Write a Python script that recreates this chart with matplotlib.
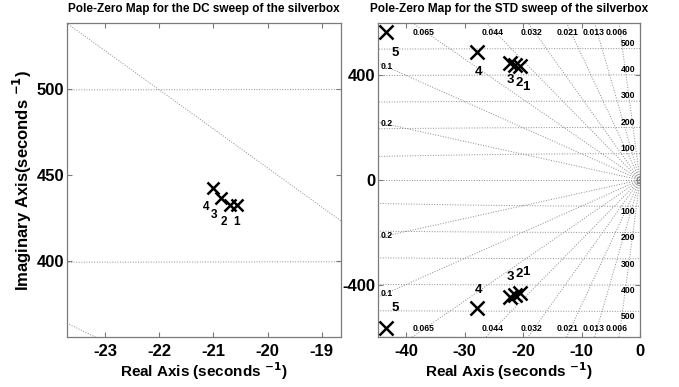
import numpy as np
import matplotlib
matplotlib.use("Agg")
import matplotlib.pyplot as plt

plt.rcParams['font.family'] = ['Liberation Sans', 'DejaVu Sans']
plt.rcParams['font.weight'] = 'bold'
plt.rcParams['mathtext.default'] = 'bf'
plt.rcParams['axes.unicode_minus'] = False

#### poles of the DC sweep (upper half only is in view) ####
dc_re = [-20.56, -20.69, -20.86, -21.01]
dc_im = [432.6, 432.6, 436.5, 442.3]
dc_lab = ['1', '2', '3', '4']

#### poles of the STD sweep (conjugate pairs) ####
std_re = [-20.5, -21.3, -22.2, -27.9, -43.4]
std_im = [432, 437, 444, 487, 565]
std_lab = ['1', '2', '3', '4', '5']

#### sgrid values ####
zetas = [0.006, 0.013, 0.021, 0.032, 0.044, 0.065, 0.1, 0.2]
zeta_top = ['0.006', '0.013', '0.021', '0.032', '0.044', '0.065']
zeta_side = ['0.1', '0.2']
wns = [100, 200, 300, 400, 500, 600]
wn_lab = ['100', '200', '300', '400', '500']

gcol = '#8a8a8a'
fcol = '#7a7a7a'


def draw_sgrid(ax, rmax):
    # damping rays
    for z in zetas:
        t = np.tan(np.arccos(z))
        xs = np.array([0, -rmax])
        ax.plot(xs, -t*xs, color=gcol, ls=':', lw=0.7, zorder=1)
        ax.plot(xs, t*xs, color=gcol, ls=':', lw=0.7, zorder=1)
    # natural frequency circles
    th = np.linspace(np.pi/2, 3*np.pi/2, 2000)
    for w in wns:
        ax.plot(w*np.cos(th), w*np.sin(th), color=gcol, ls=':', lw=0.7, zorder=1)
    ax.axhline(0, color=gcol, ls=':', lw=0.7, zorder=1)


def style_axes(ax, xt, yt):
    ax.set_xticks(xt, labels=[str(v) for v in xt], fontweight='bold', fontsize=12)
    ax.set_yticks(yt, labels=[str(v) for v in yt], fontweight='bold', fontsize=12)
    for s in ax.spines.values():
        s.set_color(fcol)
        s.set_linewidth(0.9)
    ax.tick_params(direction='in', top=True, right=True, length=3.5,
                   color=fcol, width=0.8)
    ax.tick_params(axis='x', pad=5)
    ax.tick_params(axis='y', pad=2)


fig = plt.figure(figsize=(6.79, 3.87), dpi=100)

#### left: DC sweep ####
ax1 = fig.add_axes([0.0987, 0.129, 0.4030, 0.812])
draw_sgrid(ax1, 60)
ax1.plot(dc_re, dc_im, ls='none', marker='x', ms=9, mew=1.8, color='k', zorder=3)
dc_dx = [-0.02, -0.11, -0.12, -0.12]
dc_dy = [-9.8, -9.8, -9.8, -10.7]
for i in range(len(dc_re)):
    ax1.text(dc_re[i]+dc_dx[i], dc_im[i]+dc_dy[i], dc_lab[i], fontsize=8.5,
             fontweight='bold', ha='center', va='center')
ax1.set_xlim(-23.7, -18.65)
ax1.set_ylim(355.8, 538.4)
style_axes(ax1, [-23, -22, -21, -20, -19], [400, 450, 500])
ax1.set_xlabel('Real Axis (seconds $^{-1}$)', fontsize=11, fontweight='bold', labelpad=1)
ax1.set_ylabel('Imaginary Axis(seconds $^{-1}$)', fontsize=12, fontweight='bold', labelpad=2)
ax1.set_title('Pole-Zero Map for the DC sweep of the silverbox', fontsize=8.5,
              fontweight='bold', pad=8)

#### right: STD sweep ####
ax2 = fig.add_axes([0.5567, 0.129, 0.3859, 0.812])
draw_sgrid(ax2, 60)
ax2.plot(0, 0, marker='s', ms=4, mfc='none', mec=gcol, mew=0.8, zorder=2)
ax2.plot(std_re, std_im, ls='none', marker='x', ms=10, mew=1.8, color='k', zorder=3)
ax2.plot(std_re, -np.array(std_im), ls='none', marker='x', ms=10, mew=1.8, color='k', zorder=3)
std_dx = [1.0, 0.6, 0.1, 0.2, 1.5]
top_dy = [-77, -69, -63, -76, -81]
bot_dy = [83, 79, 74, 68, 77]
for i in range(len(std_re)):
    ax2.text(std_re[i]+std_dx[i], std_im[i]+top_dy[i], std_lab[i], fontsize=9.5,
             fontweight='bold', ha='center', va='center')
    ax2.text(std_re[i]+std_dx[i], -std_im[i]+bot_dy[i], std_lab[i], fontsize=9.5,
             fontweight='bold', ha='center', va='center')

ylim2 = 598
# damping labels along top and bottom edges
for z, s in zip(zetas[:6], zeta_top):
    t = np.tan(np.arccos(z))
    xl = -560/t - 0.6
    ax2.text(xl, 560, s, fontsize=6.2, fontweight='bold', ha='center', va='center')
    ax2.text(xl, -564, s, fontsize=6.2, fontweight='bold', ha='center', va='center')
for z, s in zip(zetas[6:], zeta_side):
    t = np.tan(np.arccos(z))
    ax2.text(-44.4, 43.5*t, s, fontsize=6.2, fontweight='bold', ha='left', va='center')
    ax2.text(-44.4, -43.5*t, s, fontsize=6.2, fontweight='bold', ha='left', va='center')
# frequency labels near the imaginary axis
for w, s in zip(wns, wn_lab):
    ax2.text(-2.1, w + 20, s, fontsize=6.2, fontweight='bold', ha='center', va='center')
    ax2.text(-2.1, -w - 20, s, fontsize=6.2, fontweight='bold', ha='center', va='center')

ax2.set_xlim(-44.8, 0)
ax2.set_ylim(-ylim2, ylim2)
style_axes(ax2, [-40, -30, -20, -10, 0], [-400, 0, 400])
ax2.set_xlabel('Real Axis (seconds $^{-1}$)', fontsize=11, fontweight='bold', labelpad=1)
ax2.set_title('Pole-Zero Map for the STD sweep of the silverbox', fontsize=8.5,
              fontweight='bold', pad=8)

plt.savefig('out.png', dpi=100)
